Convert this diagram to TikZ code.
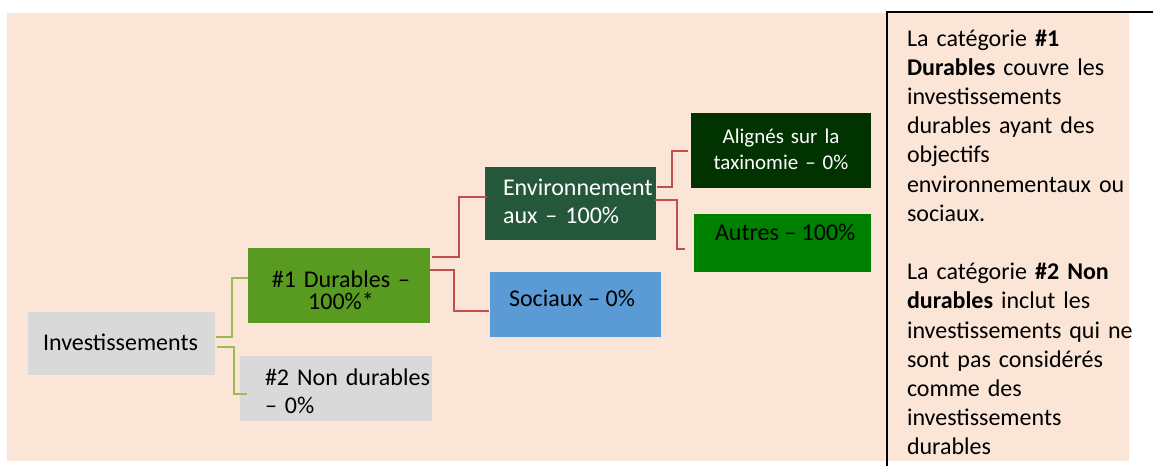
\documentclass[tikz,border=0pt]{standalone}
\usepackage{fontspec}
\setmainfont{Carlito}
\usetikzlibrary{calc}

\definecolor{peach}{HTML}{FBE5D6}
\definecolor{boxgray}{HTML}{D9D9D9}
\definecolor{durgreen}{RGB}{89,154,32}
\definecolor{envgreen}{HTML}{25573A}
\definecolor{socblue}{HTML}{5B9BD5}
\definecolor{taxgreen}{RGB}{0,51,0}
\definecolor{othgreen}{RGB}{0,128,0}
\definecolor{linkgreen}{HTML}{9BBB59}
\definecolor{linkred}{HTML}{C0504D}

\tikzset{
  catbox/.style={draw=none, inner sep=0pt, outer sep=0pt, anchor=north west},
  lbl/.style={inner sep=0pt, outer sep=0pt, font=\fontsize{24}{28.5}\selectfont},
  glink/.style={draw=linkgreen, line width=2pt},
  rlink/.style={draw=linkred, line width=2pt},
}

\begin{document}
\begin{tikzpicture}[x=1pt, y=-1pt]
\useasboundingbox (0,0) rectangle (1153,466);

% page background
\fill[peach] (7,13) rectangle (1129,461);

% category boxes
\node[catbox, fill=boxgray, minimum width=187pt, minimum height=63pt] (inv) at (28,312) {};
\node[catbox, fill=durgreen, minimum width=182pt, minimum height=75pt] (d1) at (248,248) {};
\node[catbox, fill=boxgray, minimum width=192pt, minimum height=65pt] (nd) at (240,356) {};
\node[catbox, fill=envgreen, minimum width=171pt, minimum height=73pt] (env) at (485,167) {};
\node[catbox, fill=socblue, minimum width=171pt, minimum height=65pt] (soc) at (490,272) {};
\node[catbox, fill=taxgreen, minimum width=180pt, minimum height=75pt] (ali) at (691,113) {};
\node[catbox, fill=othgreen, minimum width=177pt, minimum height=58pt] (aut) at (694,214) {};

% box labels
\node[lbl, anchor=base west] (invt) at (43,350) {Investissements};
\node[lbl, anchor=base, text width=170pt, align=center,
      font=\fontsize{24}{22}\selectfont] (d1t) at (341,287) {\#1 Durables –\\100\%*};
\node[lbl, anchor=base west, text width=180pt, align=left,
      font=\fontsize{24}{28}\selectfont] (ndt) at (265,385) {\#2 Non durables\\– 0\%};
\node[lbl, anchor=base west, text width=160pt, align=left, text=white] (envt) at (503,195) {Environnement\\aux – 100\%};
\node[lbl, anchor=base west] (soct) at (509,306) {Sociaux – 0\%};
\node[lbl, anchor=base, text width=170pt, align=center, text=white,
      font=\fontsize{21}{26}\selectfont] (alit) at (781,143) {Alignés sur la\\taxinomie – 0\%};
\node[lbl, anchor=base west] (autt) at (715,240.5) {Autres – 100\%};

% green elbow links
\draw[glink] ($(inv.north east)+(1,25)$) -- ++(16,0) |- ($(d1.north west)+(0,30)$);
\draw[glink] ($(inv.north east)+(2,35)$) -- ++(17,0) |- ($(nd.north west)+(7,38)$);

% red elbow links
\draw[rlink] ($(d1.north east)+(2,9)$) -- ++(27,0) |- ($(env.north west)+(2,30)$);
\draw[rlink] ($(d1.north east)+(-1,22)$) -- ++(25,0) |- ($(soc.north west)+(-1,39)$);
\draw[rlink] ($(env.north east)+(1,20)$) -- ++(15,0) |- ($(ali.north west)+(-3,38)$);
\draw[rlink] ($(env.north east)+(-1,33)$) -- ++(22,0) |- ($(aut.north west)+(-9,35)$);

% legend panel
\draw[line width=1.5pt] (887,466) -- (887,12) -- (1153,12);
\node[lbl, anchor=base west, text width=250pt, align=left,
      font=\fontsize{24}{29.2}\selectfont] (legend) at (907,46) {%
La catégorie \textbf{\#1}\\
\textbf{Durables} couvre les\\
investissements\\
durables ayant des\\
objectifs\\
environnementaux ou\\
sociaux.\\[29.2pt]
La catégorie \textbf{\#2 Non}\\
\textbf{durables} inclut les\\
investissements qui ne\\
sont pas considérés\\
comme des\\
investissements\\
durables};
\end{tikzpicture}
\end{document}
